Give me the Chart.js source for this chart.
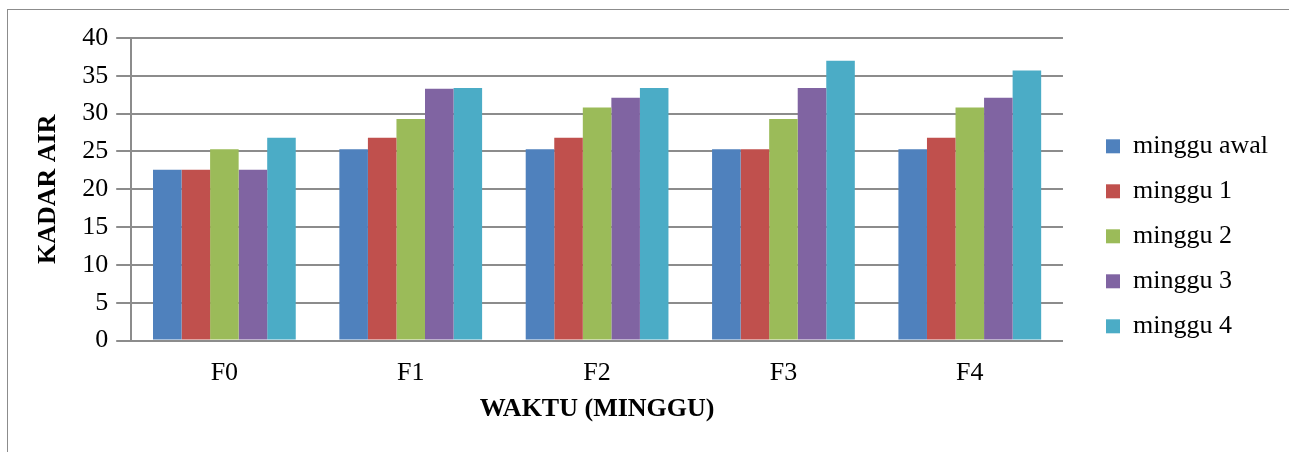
<!DOCTYPE html>
<html>
<head>
<meta charset="utf-8">
<script src="https://cdn.jsdelivr.net/npm/chart.js@4"></script>
<style>
  body { margin: 0; background: #fff; }
  #wrap { position: relative; width: 1289px; height: 452px; overflow: hidden; }
  #frame { position: absolute; left: 7px; top: 9px; width: 1300px; height: 460px; border: 1px solid #8c8c8c; box-sizing: border-box; }
  #grafico { position: absolute; left: 0; top: 0; }
</style>
</head>
<body>
<div id="wrap">
  <div id="frame"></div>
  <canvas id="grafico" width="1289" height="452"></canvas>
</div>
<script>
// datos del grafico
let kategori = ['F0', 'F1', 'F2', 'F3', 'F4'];
let mingguAwal = [22.6, 25.3, 25.3, 25.3, 25.3];
let minggu1 = [22.6, 26.8, 26.8, 25.3, 26.8];
let minggu2 = [25.3, 29.3, 30.8, 29.3, 30.8];
let minggu3 = [22.6, 33.3, 32.1, 33.4, 32.1];
let minggu4 = [26.8, 33.4, 33.4, 37.0, 35.7];
let yTicks = [0, 5, 10, 15, 20, 25, 30, 35, 40];

let serifFont = "'Liberation Serif', 'Times New Roman', serif";

var ctx = document.getElementById('grafico').getContext('2d');

function serie(label, data, color) {
    return {
        label: label,
        data: data,
        backgroundColor: color,
        borderWidth: 0,
        categoryPercentage: 0.766,
        barPercentage: 1.0
    };
}

var data = {
    labels: kategori,
    datasets: [
        serie('minggu awal', mingguAwal, '#4f81bd'),
        serie('minggu 1', minggu1, '#c0504d'),
        serie('minggu 2', minggu2, '#9bbb59'),
        serie('minggu 3', minggu3, '#8064a2'),
        serie('minggu 4', minggu4, '#4bacc6')
    ]
};

var options = {
    responsive: false,
    animation: false,
    layout: { padding: { left: 25, top: 38, right: 11, bottom: 27 } },
    plugins: {
        legend: {
            position: 'right',
            align: 'center',
            // titulo vacio, solo para bajar un poco la leyenda
            title: { display: true, text: '', padding: 0, font: { size: 8 } },
            labels: {
                boxWidth: 14,
                boxHeight: 14,
                padding: 19,
                color: '#000',
                font: { family: serifFont, size: 26 }
            }
        },
        tooltip: { enabled: false }
    },
    scales: {
        x: {
            grid: { display: false, drawTicks: false },
            border: { display: true, color: '#8c8c8c', width: 2 },
            ticks: { color: '#000', padding: 17, font: { family: serifFont, size: 26 } },
            title: {
                display: true,
                text: 'WAKTU (MINGGU)',
                color: '#000',
                padding: { top: -12, bottom: 0 },
                font: { family: serifFont, size: 26, weight: 'bold' }
            }
        },
        y: {
            min: 0,
            max: 40,
            afterBuildTicks: function (axis) {
                axis.ticks = yTicks.map(v => ({ value: v }));
            },
            grid: { color: '#8c8c8c', lineWidth: 2, tickLength: 15, drawTicks: true },
            border: { display: true, color: '#8c8c8c', width: 2 },
            ticks: { color: '#000', padding: 8, font: { family: serifFont, size: 26 } },
            title: {
                display: true,
                text: 'KADAR AIR',
                color: '#000',
                padding: { top: 8, bottom: 10 },
                font: { family: serifFont, size: 26, weight: 'bold' }
            }
        },
        // eje vacio para separar la leyenda del area del grafico
        jarak: {
            position: 'right',
            display: true,
            grid: { display: false, drawTicks: false },
            border: { display: false },
            ticks: { display: false },
            afterFit: function (axis) {
                axis.width = 24;
            }
        }
    }
};

var myChart = new Chart(ctx, {
    type: 'bar',
    data: data,
    options: options
});
</script>
</body>
</html>
